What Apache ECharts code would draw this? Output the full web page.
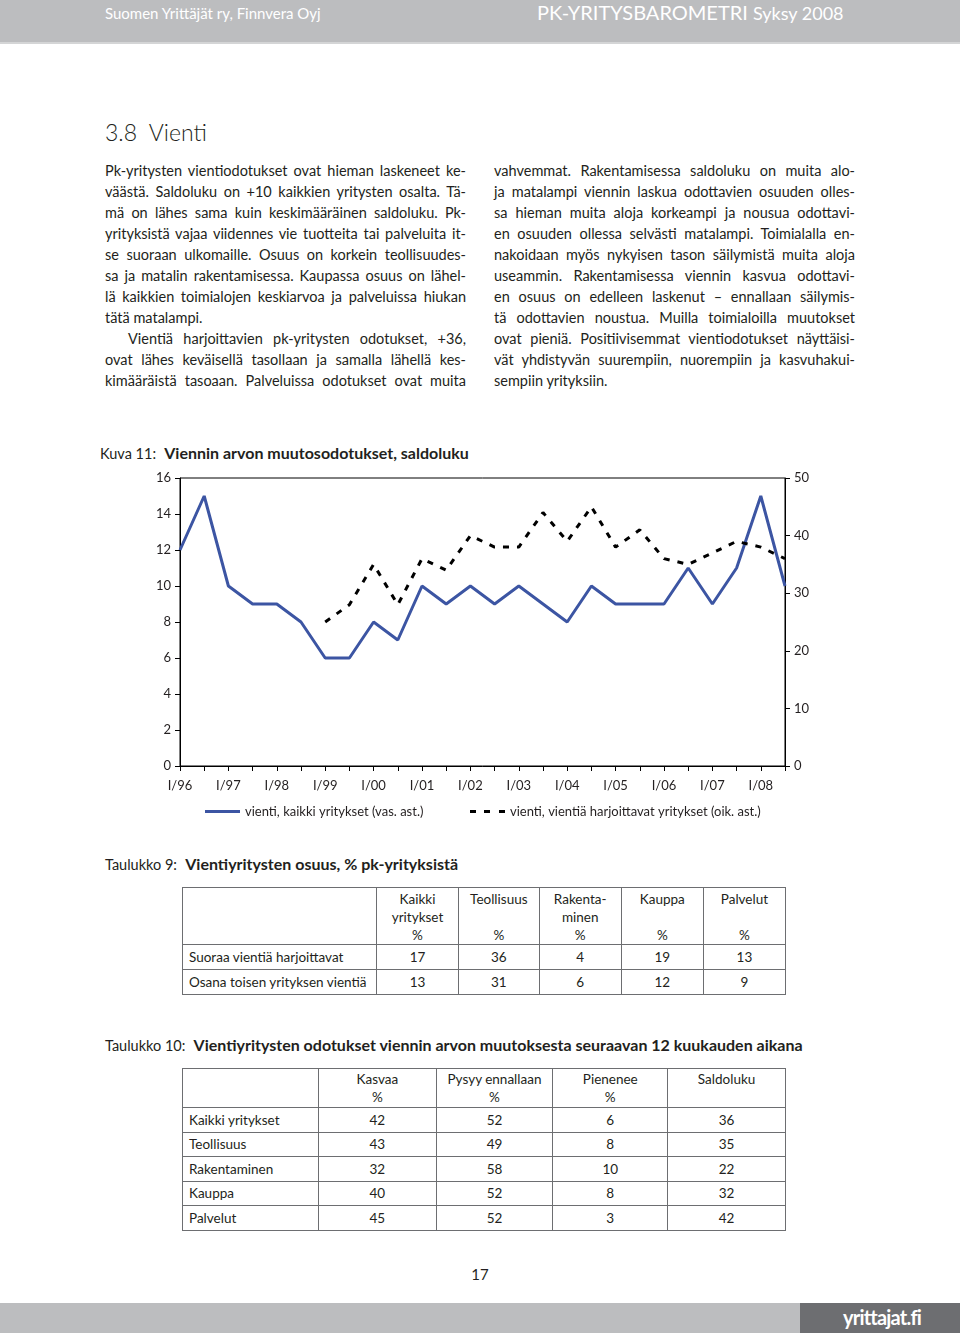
<!DOCTYPE html>
<html>
<head>
<meta charset="utf-8">
<script src="https://cdn.jsdelivr.net/npm/echarts@6/dist/echarts.min.js"></script>
<style>
  html,body{margin:0;padding:0;background:#fff;}
  body{width:960px;height:1333px;position:relative;overflow:hidden;font-family:"Lato","Open Sans",sans-serif;color:#231f20;}
  .abs{position:absolute;}
  #hdr{left:0;top:0;width:960px;height:42px;background:#bcbdbf;border-bottom:2px solid #d4d5d6;}
  #hdrL{left:105px;top:2px;color:#fff;font-size:15px;line-height:22px;}
  #hdrR{left:537px;top:0px;color:#fff;font-size:20px;line-height:24px;white-space:nowrap;}
  #hdrR span{font-size:18px;}
  #title{left:105px;top:117px;font-size:23px;line-height:30px;font-weight:300;}
  .col{width:361px;font-size:14.5px;line-height:21px;}
  .ln{white-space:nowrap;height:21px;}
  #colL{left:105px;top:160px;}
  #colR{left:494px;top:160px;}
  .cap{white-space:nowrap;line-height:20px;}
  .cap .n{font-size:14.5px;}
  .cap b{font-size:16px;font-weight:700;}
  #chart{left:0;top:440px;width:960px;height:400px;}
  table{border-collapse:collapse;font-size:13.5px;}
  td{border:1px solid #6d6e71;padding:0;text-align:center;vertical-align:middle;}
  td.l{text-align:left;padding-left:6px;}
  #t9{left:182px;top:887px;width:604px;}
  #t9 tr.h td{height:54px;vertical-align:top;line-height:18px;padding-top:2px;}
  #t9 tr.r td{height:24px;}
  #t10{left:182px;top:1068px;width:604px;}
  #t10 tr.h td{height:37px;vertical-align:top;line-height:18px;padding-top:1px;}
  #t10 tr.r td{height:23.5px;}
  #pg{left:460px;top:1265px;width:40px;text-align:center;font-size:15px;}
  #ftL{left:0;top:1303px;width:800px;height:30px;background:#bcbdbf;}
  #ftR{left:800px;top:1303px;width:160px;height:30px;background:#6d6e71;color:#fff;font-weight:700;font-size:20px;line-height:28px;text-align:left;}
  #ftR span{position:absolute;left:43px;letter-spacing:-0.8px;}
</style>
</head>
<body>
<script>
// ---------- DATA ----------
const categories = ['I/96','II/96','I/97','II/97','I/98','II/98','I/99','II/99','I/00','II/00','I/01','II/01','I/02','II/02','I/03','II/03','I/04','II/04','I/05','II/05','I/06','II/06','I/07','II/07','I/08','II/08'];
const allCompanies = [12,15,10,9,9,8,6,6,8,7,10,9,10,9,10,9,8,10,9,9,9,11,9,11,15,10];
const exportingCompanies = ['-','-','-','-','-','-',25,28,35,28,36,34,40,38,38,44,39,45,38,41,36,35,37,39,38,36];
const seriesNames = ['vienti, kaikki yritykset (vas. ast.)','vienti, vientiä harjoittavat yritykset (oik. ast.)'];
const leftTicks = {min:0, max:16, interval:2};
const rightTicks = {min:0, max:50, interval:10};

const table9Head = [['Kaikki','yritykset','%'],['Teollisuus','','%'],['Rakenta-','minen','%'],['Kauppa','','%'],['Palvelut','','%']];
const table9Rows = ['Suoraa vientiä harjoittavat','Osana toisen yrityksen vientiä'];
const table9Values = [[17,36,4,19,13],[13,31,6,12,9]];

const table10Head = [['Kasvaa','%'],['Pysyy ennallaan','%'],['Pienenee','%'],['Saldoluku','']];
const table10Rows = ['Kaikki yritykset','Teollisuus','Rakentaminen','Kauppa','Palvelut'];
const table10Values = [[42,52,6,36],[43,49,8,35],[32,58,10,22],[40,52,8,32],[45,52,3,42]];

const leftLines = [
 ['Pk-yritysten vientiodotukset ovat hieman laskeneet ke-',1],
 ['väästä. Saldoluku on +10 kaikkien yritysten osalta. Tä-',1],
 ['mä on lähes sama kuin keskimääräinen saldoluku. Pk-',1],
 ['yrityksistä vajaa viidennes vie tuotteita tai palveluita it-',1],
 ['se suoraan ulkomaille. Osuus on korkein teollisuudes-',1],
 ['sa ja matalin rakentamisessa. Kaupassa osuus on lähel-',1],
 ['lä kaikkien toimialojen keskiarvoa ja palveluissa hiukan',1],
 ['tätä matalampi.',0],
 ['Vientiä harjoittavien pk-yritysten odotukset, +36,',2],
 ['ovat lähes keväisellä tasollaan ja samalla lähellä kes-',1],
 ['kimääräistä tasoaan. Palveluissa odotukset ovat muita',1]
];
const rightLines = [
 ['vahvemmat. Rakentamisessa saldoluku on muita alo-',1],
 ['ja matalampi viennin laskua odottavien osuuden olles-',1],
 ['sa hieman muita aloja korkeampi ja nousua odottavi-',1],
 ['en osuuden ollessa selvästi matalampi. Toimialalla en-',1],
 ['nakoidaan myös nykyisen tason säilymistä muita aloja',1],
 ['useammin. Rakentamisessa viennin kasvua odottavi-',1],
 ['en osuus on edelleen laskenut – ennallaan säilymis-',1],
 ['tä odottavien noustua. Muilla toimialoilla muutokset',1],
 ['ovat pieniä. Positiivisemmat vientiodotukset näyttäisi-',1],
 ['vät yhdistyvän suurempiin, nuorempiin ja kasvuhakui-',1],
 ['sempiin yrityksiin.',0]
];
</script>

<div id="hdr" class="abs"></div>
<div id="hdrL" class="abs">Suomen Yrittäjät ry, Finnvera Oyj</div>
<div id="hdrR" class="abs">PK-YRITYSBAROMETRI <span>Syksy 2008</span></div>
<div id="title" class="abs">3.8&nbsp; Vienti</div>
<div id="colL" class="abs col"></div>
<div id="colR" class="abs col"></div>

<div class="abs cap" style="left:100px;top:443px;"><span class="n">Kuva 11:</span>&nbsp; <b>Viennin arvon muutosodotukset, saldoluku</b></div>
<div id="chart" class="abs"></div>

<div class="abs cap" style="left:105px;top:854px;"><span class="n">Taulukko 9:</span>&nbsp; <b>Vientiyritysten osuus, % pk-yrityksistä</b></div>
<table id="t9" class="abs"></table>

<div class="abs cap" style="left:105px;top:1035px;"><span class="n">Taulukko 10:</span>&nbsp; <b>Vientiyritysten odotukset viennin arvon muutoksesta seuraavan 12 kuukauden aikana</b></div>
<table id="t10" class="abs"></table>

<div id="pg" class="abs">17</div>
<div id="ftL" class="abs"></div>
<div id="ftR" class="abs"><span>yrittajat.fi</span></div>

<script>
// ---- text columns ----
function fillCol(id, lines){
  const col = document.getElementById(id);
  const W = 361;
  lines.forEach(([t,mode])=>{
    const d = document.createElement('div'); d.className='ln';
    const s = document.createElement('span'); s.textContent = t;
    d.appendChild(s); col.appendChild(d);
    const indent = mode===2 ? 23 : 0;
    if (indent) d.style.paddingLeft = indent+'px';
    if (mode>=1){
      const w = s.getBoundingClientRect().width;
      const spaces = (t.match(/ /g)||[]).length;
      let ws = (W - indent - w)/spaces;
      if (ws < -2.2){
        const ls = ((W-indent-w) + 2.2*spaces)/t.length;
        s.style.letterSpacing = ls+'px';
        ws = -2.2;
      }
      s.style.wordSpacing = ws+'px';
    }
  });
}
fillCol('colL', leftLines);
fillCol('colR', rightLines);

// ---- tables ----
(function(){
  const t9 = document.getElementById('t9');
  const w9 = [196,82,80,82,82,82];
  let h = '<tr class="h"><td style="width:'+w9[0]+'px"></td>';
  table9Head.forEach((c,i)=>{ h += '<td style="width:'+w9[i+1]+'px">'+c.map(x=>x||'&nbsp;').join('<br>')+'</td>'; });
  h += '</tr>';
  table9Rows.forEach((r,i)=>{
    h += '<tr class="r"><td class="l">'+r+'</td>'+table9Values[i].map(v=>'<td>'+v+'</td>').join('')+'</tr>';
  });
  t9.innerHTML = h;

  const t10 = document.getElementById('t10');
  const w10 = [136,118,117,115,118];
  h = '<tr class="h"><td style="width:'+w10[0]+'px"></td>';
  table10Head.forEach((c,i)=>{ h += '<td style="width:'+w10[i+1]+'px">'+c.map(x=>x||'&nbsp;').join('<br>')+'</td>'; });
  h += '</tr>';
  table10Rows.forEach((r,i)=>{
    h += '<tr class="r"><td class="l">'+r+'</td>'+table10Values[i].map(v=>'<td>'+v+'</td>').join('')+'</tr>';
  });
  t10.innerHTML = h;
})();

// ---- chart ----
const chart = echarts.init(document.getElementById('chart'), null, {renderer:'canvas'});
const axisCommon = {
  axisLine:{show:true, lineStyle:{color:'#000', width:1}},
  axisTick:{show:true, length:5, lineStyle:{color:'#000'}},
  splitLine:{show:false}
};
const legendText = {fontSize:13, color:'#231f20'};
chart.setOption({
  animation:false,
  textStyle:{fontFamily:'Lato'},
  grid:{left:180, right:175, top:38, height:288, show:true, borderColor:'#000', borderWidth:1},
  legend:[
    {data:[{name:seriesNames[0], icon:'path://M0,0H35V3H0Z'}], left:205, top:365, padding:0,
     itemWidth:35, itemHeight:3, itemGap:4, textStyle:legendText},
    {data:[{name:seriesNames[1], icon:'path://M0,0H6V3H0Z M14,0H20V3H14Z M29,0H35V3H29Z'}], left:470, top:365, padding:0,
     itemWidth:35, itemHeight:3, itemGap:4, textStyle:legendText}
  ],
  xAxis:{
    type:'category', data:categories, boundaryGap:false,
    axisLine:{show:true, onZero:false, lineStyle:{color:'#000'}},
    axisTick:{show:true, interval:0, length:5, lineStyle:{color:'#000'}},
    axisLabel:{interval:1, color:'#231f20', fontSize:13, margin:13}
  },
  yAxis:[
    Object.assign({type:'value', position:'left', min:leftTicks.min, max:leftTicks.max, interval:leftTicks.interval}, axisCommon,
      {axisLabel:{color:'#231f20', fontSize:13, margin:9}}),
    Object.assign({type:'value', position:'right', min:rightTicks.min, max:rightTicks.max, interval:rightTicks.interval}, axisCommon,
      {axisLabel:{color:'#231f20', fontSize:13, margin:9}})
  ],
  series:[
    {name:seriesNames[0], type:'line', yAxisIndex:0, data:allCompanies, symbol:'none',
     lineStyle:{color:'#3c55a3', width:3}, itemStyle:{color:'#3c55a3'}},
    {name:seriesNames[1], type:'line', yAxisIndex:1, data:exportingCompanies, symbol:'none',
     lineStyle:{color:'#000', width:3, type:[6,8]}, itemStyle:{color:'#000'}}
  ]
});
</script>
</body>
</html>
